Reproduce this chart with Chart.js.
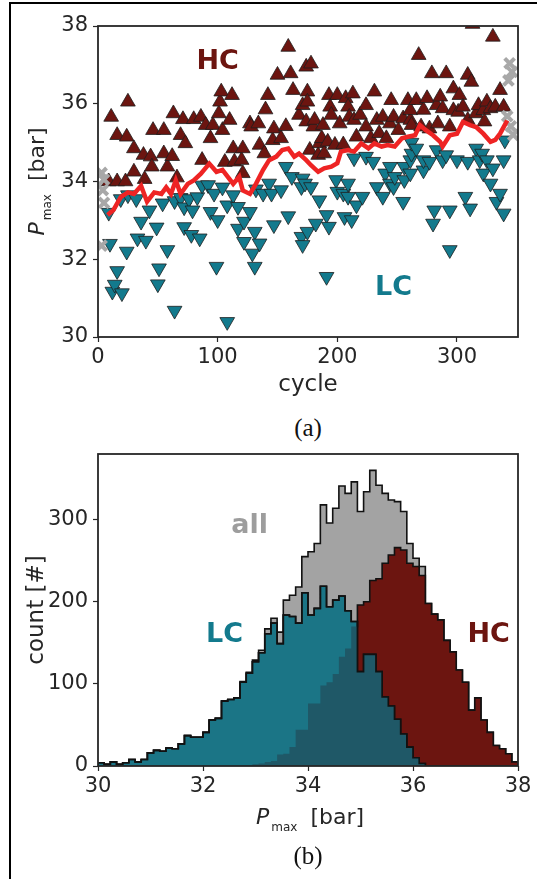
<!DOCTYPE html>
<html>
<head>
<meta charset="utf-8">
<title>Pmax per cycle</title>
<script src="https://cdn.jsdelivr.net/npm/chart.js@4.4.1/dist/chart.umd.min.js"></script>
<style>
  html, body { margin: 0; padding: 0; background: #fff; }
  body { position: relative; width: 537px; height: 879px; overflow: hidden; }
  #frame { position: absolute; left: 9px; top: 2px; width: 700px; height: 1000px;
           border-left: 2px solid #000; border-top: 2px solid #000; }
  canvas { position: absolute; left: 0; }
  #cycleChart { top: 0; }
  #histChart { top: 430px; }
  .caption { position: absolute; left: 208px; width: 200px; text-align: center;
             font: 25px "Liberation Serif", "DejaVu Serif", serif; color: #111; }
</style>
</head>
<body>
<div id="frame"></div>
<canvas id="cycleChart" width="537" height="400"></canvas>
<div class="caption" style="top:414px">(a)</div>
<canvas id="histChart" width="537" height="420"></canvas>
<div class="caption" style="top:842px">(b)</div>

<script>
// (a) Pmax per cycle: high (HC) and low (LC) cycles, running mean, excluded cycles
const hcCycle = [9, 11, 16, 16, 23, 24, 25, 30, 30, 38, 39, 44, 45, 46, 55, 55, 58, 62, 63, 66, 69, 71, 73, 80, 86, 87,
  90, 94, 96, 101, 102, 103, 104, 106, 110, 112, 113, 114, 120, 121, 121, 127, 128, 134, 135, 139, 140, 142, 146, 147,
  150, 153, 157, 159, 161, 163, 168, 171, 174, 174, 175, 175, 177, 178, 180, 181, 184, 185, 187, 188, 189, 192, 193, 194,
  195, 198, 200, 202, 205, 207, 209, 210, 213, 214, 216, 219, 224, 224, 228, 231, 233, 235, 238, 241, 244, 245, 247, 251,
  255, 259, 261, 261, 262, 266, 268, 270, 272, 275, 277, 279, 283, 284, 286, 288, 291, 294, 297, 297, 301, 302, 305, 309,
  309, 312, 313, 316, 318, 322, 323, 325, 328, 330, 332, 336, 339];
const hcPmax = [34.0, 35.66, 35.19, 34.0, 34.0, 35.15, 36.05, 34.85, 34.25, 34.68, 34.06, 34.64, 34.38, 35.32, 35.32, 34.72,
  34.38, 34.65, 35.75, 34.1, 35.19, 35.6, 34.98, 35.6, 35.66, 34.55,
  35.45, 35.11, 35.45, 35.75, 36.05, 36.31, 35.32, 34.5, 35.58, 36.22, 34.85, 34.51, 34.55, 34.85, 34.21, 35.49, 35.41,
  35.49, 34.94, 34.72, 35.85, 36.22, 35.06, 35.36,
  36.74, 35.11, 35.42, 37.46, 36.78, 36.35, 35.71, 35.96, 35.54, 36.95, 36.31, 36.05, 34.81, 37.03, 35.41, 35.58, 34.68,
  34.98, 35.11, 35.45, 34.72, 35.02, 36.22, 35.92,
  35.71, 34.94, 36.22, 35.49, 34.95, 36.14, 35.92, 35.66, 36.26, 35.58, 35.15, 35.71, 35.96, 35.41, 35.11, 36.31, 35.58,
  35.24, 35.66, 35.11, 35.49, 36.09, 35.66, 35.32,
  35.62, 36.09, 35.58, 35.83, 35.45, 36.09, 37.25, 35.41, 35.84, 36.14, 35.36, 36.78, 35.96, 35.49, 36.18, 35.88, 36.78,
  35.41, 36.39, 35.83, 35.79, 36.22, 35.92, 36.74,
  35.58, 36.56, 38.05, 35.75, 35.96, 35.83, 35.54, 36.05, 35.88, 37.72, 35.92, 36.35, 35.92];

const lcCycle = [9, 10, 12, 14, 16, 19, 20, 24, 25, 32, 33, 36, 40, 43, 49, 50, 51, 54, 58, 64, 64, 69, 72, 72, 76, 78,
  79, 83, 85, 87, 92, 94, 97, 99, 100, 104, 108, 108, 113, 117, 117, 122, 122, 127, 129, 131, 131, 132, 135, 138, 143,
  145, 147, 153, 157, 159, 162, 170, 170, 171, 171, 173, 175, 178, 182, 185, 191, 191, 193, 199, 200, 205, 206, 209, 209,
  212, 214, 216, 221, 224, 230, 233, 238, 240, 244, 244, 247, 248, 255, 256, 256, 261, 261, 262, 262, 266, 272, 272, 277,
  280, 281, 283, 288, 291, 294, 294, 300, 307, 309, 311, 316, 319, 321, 322, 325, 328, 330, 333, 336, 339, 339, 340];
const lcPmax = [33.2, 32.4, 31.17, 31.35, 31.7, 33.55, 31.13, 32.2, 33.65, 33.55, 32.54, 32.97, 32.48, 33.26, 32.82, 31.36,
  31.77, 33.44, 32.24, 30.68, 33.5, 33.58, 32.83, 33.34, 33.55, 32.63,
  33.26, 33.6, 32.54, 33.9, 33.91, 33.22, 33.69, 31.81, 33.01, 33.85, 33.39, 30.39, 33.65, 33.35, 32.79, 32.97, 32.45,
  33.22, 32.15, 32.71, 31.81, 33.8, 32.41, 33.69, 33.95,
  33.69, 32.88, 33.78, 34.38, 33.11, 34.12, 33.86, 32.58, 32.37, 34.08, 33.95, 32.71, 33.86, 32.92, 33.52, 33.14, 31.55,
  32.84, 34.04, 33.74, 33.69, 33.09, 33.95, 33.61,
  33.01, 34.6, 33.39, 33.61, 34.64, 34.51, 33.86, 33.61, 34.21, 33.95, 34.38, 33.86, 34.12, 33.48, 34.38, 34.04, 34.55,
  34.21, 34.72, 35.0, 34.85, 34.29, 34.55, 34.51,
  32.92, 33.26, 34.81, 34.55, 34.68, 33.26, 32.24, 34.55, 33.61, 34.51, 33.31, 34.85, 34.55, 34.72, 34.21, 34.55, 33.95,
  34.34, 33.48, 33.69, 34.55, 33.18, 35.06];

// cycles without a full averaging window (grey crosses)
const outCycle = [3, 5, 4, 5, 3, 344, 346, 343, 342, 345, 347];
const outPmax = [34.22, 34.05, 33.78, 33.45, 32.35, 37.04, 36.82, 36.6, 35.68, 35.42, 35.2];

// running mean (red line)
const meanCycle = [8, 13, 19, 25, 30, 36, 41, 47, 53, 57, 61, 65, 69, 75, 80, 86, 93, 99, 104, 113, 118, 121, 127, 132,
  138, 143, 149, 154, 159, 164, 168, 174, 178, 184, 189, 195, 200, 203, 209, 214, 220, 226, 231, 237, 242, 248, 254, 259,
  265, 269, 274, 280, 286, 288, 294, 300, 305, 311, 316, 322, 328, 332, 336, 342];
const meanPmax = [33.14, 33.27, 33.6, 33.72, 33.68, 33.89, 33.48, 33.72, 33.68, 33.85, 33.68, 34.03, 33.68, 33.94, 34.03,
  34.2, 34.46, 34.25, 34.3, 33.94, 34.12, 33.77, 33.68, 33.94, 34.3, 34.55, 34.64, 34.81, 34.85, 34.64, 34.72, 34.55,
  34.42, 34.25, 34.34, 34.38, 34.47, 34.77, 34.81, 34.77, 34.98, 34.85, 34.98, 34.9, 34.94, 34.9, 35.11, 35.15, 35.19,
  35.45, 35.32, 35.19, 35.02, 34.9, 35.19, 35.23, 35.53, 35.45, 35.4, 35.23, 35.02, 35.07, 35.23, 35.57];

// (b) histograms of Pmax, 68 bins between 30 and 38 bar
const binStart = 30;
const binWidth = 8 / 68;
const lcCounts = [4, 2, 5, 2, 4, 8, 5, 8, 16, 19, 18, 22, 21, 27, 37, 35, 35, 41, 56, 58, 79, 81, 83, 102, 113, 127, 138,
  161, 174, 149, 184, 182, 174, 211, 184, 192, 219, 194, 202, 207, 189, 176, 115, 136, 136, 115, 84, 73, 57, 39, 23, 10,
  3, 0, 0, 0, 0, 0, 0, 0, 0, 0, 0, 0, 0, 0, 0, 0];
const hcCounts = [0, 0, 0, 0, 0, 0, 0, 0, 0, 0, 0, 0, 0, 0, 0, 0, 0, 0, 0, 0, 0, 0, 0, 1, 1, 2, 3, 5, 6, 14, 15, 23, 44,
  44, 76, 76, 98, 102, 112, 133, 143, 170, 196, 200, 226, 228, 247, 257, 266, 263, 247, 243, 232, 198, 185, 178, 153,
  139, 117, 102, 68, 83, 56, 41, 25, 21, 15, 5];
const allCounts = [4, 2, 5, 2, 4, 8, 5, 8, 16, 19, 18, 22, 21, 27, 37, 35, 35, 41, 56, 58, 79, 81, 83, 103, 114, 129, 141,
  167, 180, 163, 202, 208, 218, 255, 261, 271, 318, 296, 314, 341, 332, 346, 310, 334, 360, 342, 332, 324, 322, 310, 271,
  253, 243, 198, 185, 178, 153, 139, 117, 102, 68, 83, 56, 41, 25, 21, 15, 5];

const HC_COLOR = '#6c1510';
const LC_COLOR = '#137a8d';
const LC_FILL = '#1b7586';
const BOTH_FILL = '#1f5867';
const ALL_FILL = '#a3a3a3';
const INK = '#262626';

const TICK_FONT = { family: 'DejaVu Sans', size: 21 };
const GRID = { drawOnChartArea: false, drawTicks: true, tickLength: 5, tickWidth: 1.2, tickColor: INK, color: INK };

function toPoints(xs, ys) {
    return xs.map((x, i) => ({ x: x, y: ys[i] }));
}

// histogram outline as step points on the bin edges
function stepPoints(counts) {
    const pts = [{ x: binStart, y: 0 }];
    counts.forEach((c, i) => pts.push({ x: binStart + i * binWidth, y: c }));
    pts.push({ x: binStart + counts.length * binWidth, y: 0 });
    return pts;
}

// "P_max [bar]" with a real subscript
function drawPmax(ctx, cx, cy, vertical) {
    ctx.save();
    ctx.translate(cx, cy);
    if (vertical) ctx.rotate(-Math.PI / 2);
    ctx.fillStyle = INK;
    ctx.textAlign = 'left';
    ctx.textBaseline = 'alphabetic';
    ctx.font = 'italic 22px "DejaVu Sans"';
    const wP = ctx.measureText('P').width;
    ctx.font = '12px "DejaVu Sans"';
    const wM = ctx.measureText('max').width;
    ctx.font = '22px "DejaVu Sans"';
    const wB = ctx.measureText('[bar]').width;
    let x = -(wP + 2 + wM + 13 + wB) / 2;
    ctx.font = 'italic 22px "DejaVu Sans"';
    ctx.fillText('P', x, 8);
    x += wP + 2;
    ctx.font = '12px "DejaVu Sans"';
    ctx.fillText('max', x, 15);
    x += wM + 13;
    ctx.font = '22px "DejaVu Sans"';
    ctx.fillText('[bar]', x, 8);
    ctx.restore();
}

function drawText(ctx, text, x, y, font, color, vertical) {
    ctx.save();
    ctx.translate(x, y);
    if (vertical) ctx.rotate(-Math.PI / 2);
    ctx.font = font;
    ctx.fillStyle = color;
    ctx.textAlign = 'center';
    ctx.textBaseline = 'middle';
    ctx.fillText(text, 0, 0);
    ctx.restore();
}

const framePlugin = {
    id: 'frame',
    afterDraw(chart) {
        const { ctx, chartArea: a } = chart;
        ctx.save();
        ctx.strokeStyle = INK;
        ctx.lineWidth = 1.8;
        ctx.strokeRect(a.left, a.top, a.right - a.left, a.bottom - a.top);
        ctx.restore();
    }
};

const cycleLabels = {
    id: 'cycleLabels',
    afterDraw(chart) {
        const { ctx, scales: { x, y } } = chart;
        drawText(ctx, 'HC', x.getPixelForValue(100), y.getPixelForValue(37.07), 'bold 27px "DejaVu Sans"', HC_COLOR);
        drawText(ctx, 'LC', x.getPixelForValue(247), y.getPixelForValue(31.26), 'bold 27px "DejaVu Sans"', LC_COLOR);
        drawText(ctx, 'cycle', (x.left + x.right) / 2, 385, '23px "DejaVu Sans"', INK);
        drawPmax(ctx, 36, (y.top + y.bottom) / 2, true);
    }
};

const histLabels = {
    id: 'histLabels',
    afterDraw(chart) {
        const { ctx, scales: { x, y } } = chart;
        drawText(ctx, 'all', x.getPixelForValue(32.89), y.getPixelForValue(292), 'bold 27px "DejaVu Sans"', '#9d9d9d');
        drawText(ctx, 'LC', x.getPixelForValue(32.41), y.getPixelForValue(160), 'bold 27px "DejaVu Sans"', LC_COLOR);
        drawText(ctx, 'HC', x.getPixelForValue(37.44), y.getPixelForValue(160), 'bold 27px "DejaVu Sans"', HC_COLOR);
        drawText(ctx, 'count [#]', 37, (y.top + y.bottom) / 2, '23px "DejaVu Sans"', INK, true);
        drawPmax(ctx, (x.left + x.right) / 2 + 2, 816 - 430, false);
    }
};

function axis(min, max, step, fitKey, fitSize, pad) {
    return {
        type: 'linear', min: min, max: max,
        afterFit: s => { s[fitKey] = fitSize; },
        ticks: { stepSize: step, includeBounds: false, padding: pad, font: TICK_FONT, color: INK, maxRotation: 0 },
        grid: GRID,
        border: { display: false }
    };
}

const baseOptions = {
    responsive: false,
    animation: false,
    devicePixelRatio: 1,
    events: [],
    plugins: { legend: { display: false }, tooltip: { enabled: false } }
};

new Chart(document.getElementById('cycleChart'), {
    type: 'scatter',
    data: {
        datasets: [
            { data: toPoints(meanCycle, meanPmax), showLine: true, borderColor: '#ee2424', borderWidth: 4.5,
              pointRadius: 0, tension: 0, clip: 0 },
            { data: toPoints(outCycle, outPmax), pointStyle: 'crossRot', pointRadius: 7, borderWidth: 4,
              borderColor: '#a8a8a8', clip: 0 },
            { data: toPoints(lcCycle, lcPmax), pointStyle: 'triangle', pointRotation: 180, pointRadius: 8.5,
              backgroundColor: LC_COLOR, borderColor: '#1e1e1e', borderWidth: 0.8, clip: 0 },
            { data: toPoints(hcCycle, hcPmax), pointStyle: 'triangle', pointRadius: 8.5,
              backgroundColor: HC_COLOR, borderColor: '#1e1e1e', borderWidth: 0.8, clip: 0 }
        ]
    },
    options: Object.assign({}, baseOptions, {
        layout: { padding: { top: 26, right: 19, bottom: 0, left: 0 } },
        scales: {
            x: axis(0, 351, 100, 'height', 63, 3),
            y: axis(30, 38, 2, 'width', 98, 5)
        }
    }),
    plugins: [framePlugin, cycleLabels]
});

// drawn bottom to top: all, HC, LC, overlap of LC and HC, LC outline again
const bothCounts = lcCounts.map((c, i) => Math.min(c, hcCounts[i]));
const stepLine = { stepped: 'before', pointRadius: 0, tension: 0 };

new Chart(document.getElementById('histChart'), {
    type: 'line',
    data: {
        datasets: [
            Object.assign({ data: stepPoints(lcCounts), borderColor: '#111', borderWidth: 1.6, fill: false }, stepLine),
            Object.assign({ data: stepPoints(bothCounts), borderColor: 'rgba(0,0,0,0)', borderWidth: 1,
                            backgroundColor: BOTH_FILL, fill: 'origin' }, stepLine),
            Object.assign({ data: stepPoints(lcCounts), borderColor: '#111', borderWidth: 1.6,
                            backgroundColor: LC_FILL, fill: 'origin' }, stepLine),
            Object.assign({ data: stepPoints(hcCounts), borderColor: '#111', borderWidth: 1.6,
                            backgroundColor: HC_COLOR, fill: 'origin' }, stepLine),
            Object.assign({ data: stepPoints(allCounts), borderColor: '#111', borderWidth: 1.6,
                            backgroundColor: ALL_FILL, fill: 'origin' }, stepLine)
        ]
    },
    options: Object.assign({}, baseOptions, {
        layout: { padding: { top: 24, right: 19, bottom: 0, left: 0 } },
        scales: {
            x: axis(30, 38, 2, 'height', 84, 3),
            y: axis(0, 380, 100, 'width', 98, 5)
        }
    }),
    plugins: [framePlugin, histLabels]
});
</script>
</body>
</html>
